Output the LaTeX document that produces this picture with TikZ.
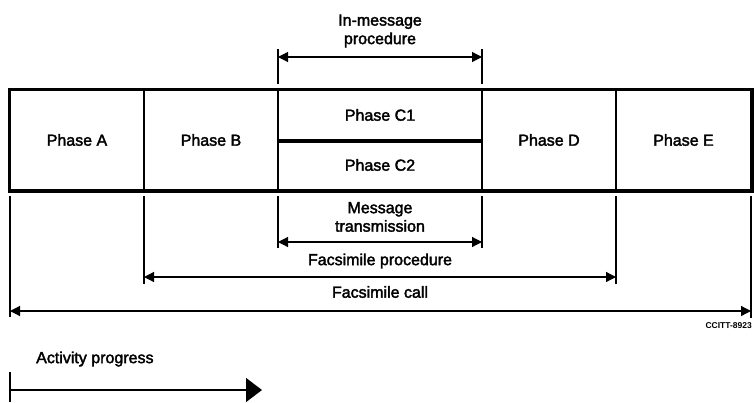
\documentclass[tikz,border=0pt]{standalone}
\usepackage{fontspec}
\setmainfont{Liberation Sans}
\newfontfamily\lblfont{Liberation Sans}[FakeBold=2.2]
\usetikzlibrary{arrows.meta}
\begin{document}
\begin{tikzpicture}[x=1pt,y=1pt,
  phasebox/.style={draw,line width=2pt,inner sep=0pt,font=\lblfont\fontsize{16}{18}\selectfont},
  dimline/.style={line width=1.2pt,{Triangle[length=10pt,width=10pt]}-{Triangle[length=10pt,width=10pt]}},
  extline/.style={line width=1.1pt},
  lbl/.style={font=\lblfont\fontsize{16}{18.5}\selectfont,align=center,inner sep=0pt}]
\useasboundingbox (0,0) rectangle (754,-402);
% phase boxes
\node[phasebox,minimum width=134pt,minimum height=100pt] (pa) at (77,-140) {Phase A};
\node[phasebox,minimum width=134pt,minimum height=100pt] (pb) at (211,-140) {Phase B};
\node[phasebox,minimum width=204pt,minimum height=50pt] (pc1) at (380,-115) {Phase C1};
\node[phasebox,minimum width=204pt,minimum height=50pt] (pc2) at (380,-165) {Phase C2};
\node[phasebox,minimum width=134pt,minimum height=100pt] (pd) at (549,-140) {Phase D};
\node[phasebox,minimum width=135pt,minimum height=100pt] (pe) at (683.5,-140) {Phase E};
\draw[line width=3pt] (pc1.south west) -- (pc1.south east);
\draw[line width=3pt] (pa.north west) rectangle (pe.south east);
% extension line ends
\coordinate (t1) at (278,-49);
\coordinate (t2) at (482,-49);
\coordinate (u1) at (278,-84);
\coordinate (u2) at (482,-84);
\coordinate (sa) at (10,-196);
\coordinate (sb) at (144,-196);
\coordinate (sc) at (278,-196);
\coordinate (sd) at (482,-196);
\coordinate (se) at (616,-196);
\coordinate (sf) at (751,-196);
\coordinate (xa) at (10,-317);
\coordinate (xb) at (144,-284);
\coordinate (xc) at (278,-248);
\coordinate (xd) at (482,-248);
\coordinate (xe) at (616,-284);
\coordinate (xf) at (751,-318);
\draw[extline] (t1) -- (u1);
\draw[extline] (t2) -- (u2);
\draw[extline] (sa) -- (xa);
\draw[extline] (sb) -- (xb);
\draw[extline] (sc) -- (xc);
\draw[extline] (sd) -- (xd);
\draw[extline] (se) -- (xe);
\draw[extline] (sf) -- (xf);
% dimension arrows
\coordinate (im1) at (278,-57);
\coordinate (im2) at (482,-57);
\draw[dimline] (im1) -- (im2);
\node[lbl] (imt) at (380,-31) {In-message\\procedure};
\coordinate (mt1) at (278,-242);
\coordinate (mt2) at (482,-242);
\draw[dimline] (mt1) -- (mt2);
\node[lbl] (mtt) at (380,-217) {Message\\transmission};
\coordinate (fp1) at (144,-277);
\coordinate (fp2) at (616,-277);
\draw[dimline] (fp1) -- (fp2);
\node[lbl] (fpt) at (380,-261) {Facsimile procedure};
\coordinate (fc1) at (10,-311);
\coordinate (fc2) at (751,-311);
\draw[dimline] (fc1) -- (fc2);
\node[lbl] (fct) at (380,-292) {Facsimile call};
% reference code
\node[font=\bfseries\fontsize{8.5}{10}\selectfont,anchor=east,inner sep=0pt] (code) at (752,-326) {CCITT-8923};
% activity progress
\coordinate (ap0) at (10,-372);
\coordinate (ap1) at (10,-402);
\coordinate (aps) at (10,-390);
\coordinate (ape) at (262,-390);
\draw[extline] (ap0) -- (ap1);
\draw[line width=1.2pt,-{Triangle[length=16pt,width=24pt]}] (aps) -- (ape);
\node[lbl,anchor=west] (apt) at (36,-359) {Activity progress};
\end{tikzpicture}
\end{document}
